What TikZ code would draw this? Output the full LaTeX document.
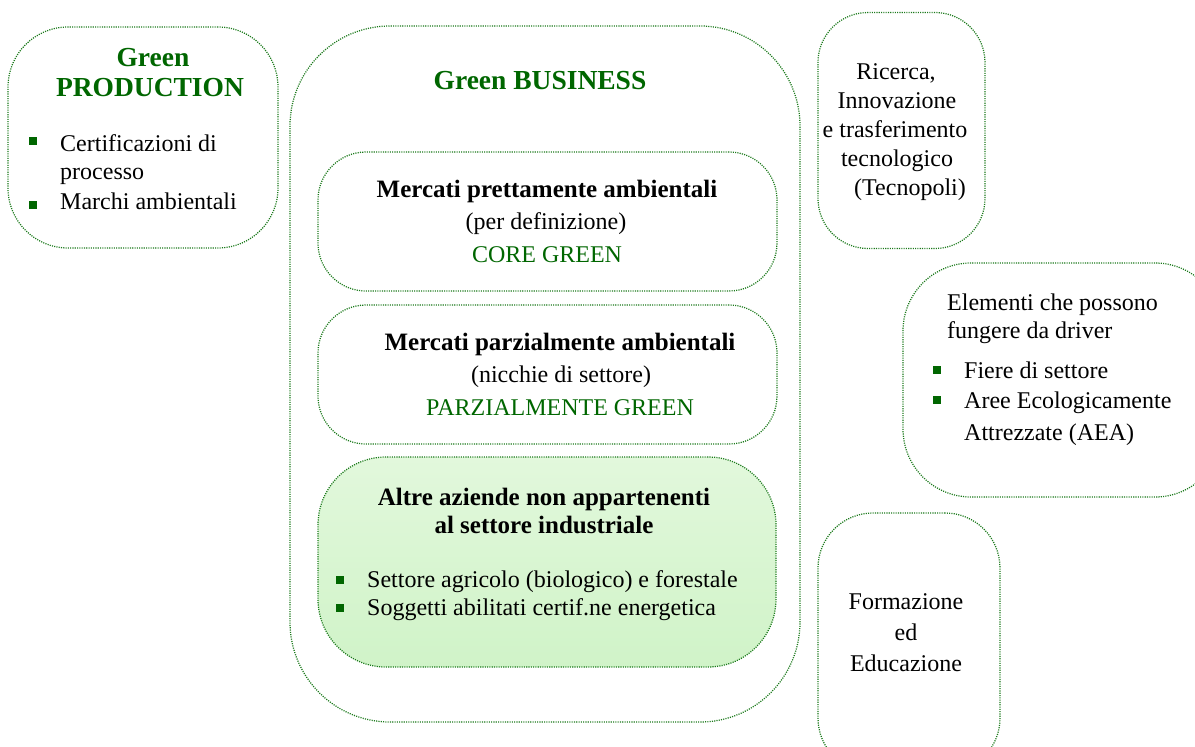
\documentclass[tikz,border=0pt]{standalone}
\usepackage{fontspec}
\setmainfont{Liberation Serif}
\definecolor{tgreen}{HTML}{006600}
\definecolor{bgreen}{HTML}{1C7A1C}
\definecolor{filltop}{HTML}{E2F8DC}
\definecolor{fillbot}{HTML}{D0F3C8}
\begin{document}
\begin{tikzpicture}[x=1pt,y=-1pt,
  box/.style={draw=bgreen, line width=1.25pt, dash pattern=on 1.1pt off 1.2pt, inner sep=0pt},
  txt/.style={font=\fontsize{24}{28}\selectfont, inner sep=0pt, anchor=base},
  txtl/.style={txt, anchor=base west},
  bold/.style={txt, font=\fontsize{25}{28}\selectfont\bfseries},
  gbold/.style={txt, font=\fontsize{27.5}{30}\selectfont\bfseries, text=tgreen},
  gtxt/.style={txt, text=tgreen},
  bul/.style={fill=tgreen, minimum size=7.5pt, inner sep=0pt}
]
\useasboundingbox (0,0) rectangle (1195,747);
\begin{scope}
\clip (0,0) rectangle (1195,747);
% boxes
\node[box, rounded corners=60pt, minimum width=270pt, minimum height=221pt] (prod) at (143,137.5) {};
\node[box, rounded corners=100pt, minimum width=510pt, minimum height=696pt] (bus) at (545,374) {};
\node[box, rounded corners=48pt, minimum width=459pt, minimum height=139pt] (core) at (547.5,221.5) {};
\node[box, rounded corners=48pt, minimum width=459pt, minimum height=139pt] (parz) at (547.5,374.5) {};
\node[box, rounded corners=68pt, minimum width=458pt, minimum height=210pt, top color=filltop, bottom color=fillbot] (altre) at (547,562) {};
\node[box, rounded corners=50pt, minimum width=167pt, minimum height=236pt] (ric) at (901.5,130.5) {};
\node[box, rounded corners=68pt, minimum width=320pt, minimum height=234pt] (elem) at (1063,380) {};
\node[box, rounded corners=55pt, minimum width=182pt, minimum height=260pt] (form) at (909,643) {};
\end{scope}
% Green PRODUCTION
\node[gbold] (p1) at (153,66.7) {Green};
\node[gbold] (p2) at (150,96.7) {PRODUCTION};
\node[bul] (pb1) at (33,141) {};
\node[txtl] (pt1) at (60,151.7) {Certificazioni di};
\node[txtl] (pt2) at (60,179) {processo};
\node[bul] (pb2) at (33,205) {};
\node[txtl] (pt3) at (60,209) {Marchi ambientali};
% Green BUSINESS
\node[gbold] (bt) at (540,89) {Green BUSINESS};
\node[bold] (c1) at (547,197) {Mercati prettamente ambientali};
\node[txt] (c2) at (546,229) {(per definizione)};
\node[gtxt] (c3) at (547,262) {CORE GREEN};
\node[bold] (m1) at (560,350) {Mercati parzialmente ambientali};
\node[txt] (m2) at (561,382) {(nicchie di settore)};
\node[gtxt] (m3) at (560,415) {PARZIALMENTE GREEN};
\node[bold] (a1) at (544,505) {Altre aziende non appartenenti};
\node[bold] (a2) at (544,533) {al settore industriale};
\node[bul] (ab1) at (340,580) {};
\node[txtl] (at1) at (367,587) {Settore agricolo (biologico) e forestale};
\node[bul] (ab2) at (340,608) {};
\node[txtl] (at2) at (367,615) {Soggetti abilitati certif.ne energetica};
% Ricerca
\node[txt] (r1) at (896,79) {Ricerca,};
\node[txt] (r2) at (897,108) {Innovazione};
\node[txt] (r3) at (895,137) {e trasferimento};
\node[txt] (r4) at (897,166) {tecnologico};
\node[txt] (r5) at (910,195) {(Tecnopoli)};
% Elementi
\node[txtl] (e1) at (947,310) {Elementi che possono};
\node[txtl] (e2) at (947,338) {fungere da driver};
\node[bul] (eb1) at (937,370) {};
\node[txtl] (e3) at (964,378) {Fiere di settore};
\node[bul] (eb2) at (937,400) {};
\node[txtl] (e4) at (964,408) {Aree Ecologicamente};
\node[txtl] (e5) at (964,440) {Attrezzate (AEA)};
% Formazione
\node[txt] (f1) at (906,609) {Formazione};
\node[txt] (f2) at (906,640) {ed};
\node[txt] (f3) at (906,671) {Educazione};
\end{tikzpicture}
\end{document}
